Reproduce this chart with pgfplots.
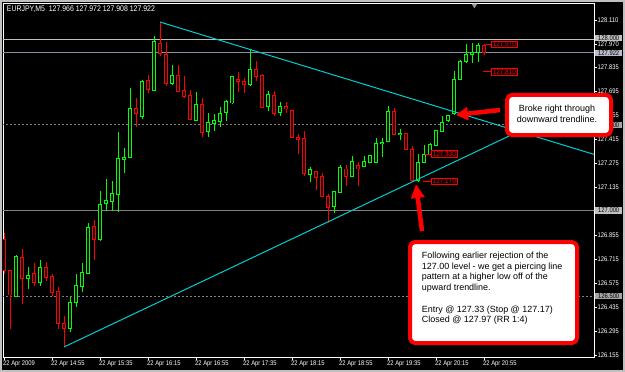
\documentclass[border=0pt]{standalone}
\usepackage{fontspec}
\setmainfont{Liberation Sans}
\newfontfamily\mtfont[FakeStretch=0.86]{Liberation Sans}
\usepackage{pgfplots}
\pgfplotsset{compat=1.18}
\usepackage{pgfplotstable}
\usetikzlibrary{arrows.meta}

\definecolor{bullc}{RGB}{0,255,0}
\definecolor{bearc}{RGB}{255,0,0}
\definecolor{trend}{RGB}{0,206,209}
\definecolor{silverl}{RGB}{192,192,192}
\definecolor{bidl}{RGB}{130,145,165}
\definecolor{lvl}{RGB}{128,128,128}

\newcommand\smallf{\mtfont\fontsize{6.8}{8}\selectfont}
\newcommand\titlef{\mtfont\fontsize{8.1}{9}\selectfont}
\newcommand\labf{\mtfont\fontsize{7.4}{8}\selectfont}
\newcommand\callf{\fontsize{9}{10.8}\selectfont}

% bullish candles: index, open, high, low, close
\pgfplotstableread{
k o h l c
2 126.501 126.740 126.495 126.734
4 126.606 126.670 126.542 126.623
6 126.582 126.711 126.559 126.670
11 126.314 126.495 126.290 126.466
12 126.466 126.629 126.436 126.565
13 126.559 126.693 126.524 126.641
14 126.635 126.927 126.629 126.904
16 126.834 127.114 126.822 127.038
17 127.044 127.184 126.997 127.061
18 127.056 127.172 126.997 127.102
19 127.091 127.459 126.991 127.301
20 127.301 127.365 127.219 127.313
21 127.313 127.716 127.310 127.599
23 127.552 127.762 127.534 127.756
25 127.704 128.019 127.700 127.990
28 127.745 127.850 127.733 127.792
32 127.529 127.692 127.523 127.622
34 127.464 127.570 127.429 127.517
35 127.511 127.564 127.464 127.529
36 127.523 127.605 127.488 127.570
37 127.570 127.646 127.523 127.634
38 127.628 127.783 127.625 127.780
41 127.739 127.943 127.727 127.827
44 127.605 127.698 127.581 127.675
46 127.570 127.634 127.552 127.610
51 127.213 127.254 127.167 127.237
55 127.021 127.114 126.985 127.108
56 127.108 127.266 127.105 127.254
58 127.202 127.318 127.200 127.289
60 127.260 127.318 127.254 127.289
61 127.283 127.327 127.280 127.324
62 127.283 127.424 127.280 127.394
63 127.394 127.424 127.313 127.400
64 127.406 127.610 127.403 127.581
66 127.447 127.476 127.412 127.453
69 127.178 127.330 127.170 127.283
70 127.283 127.383 127.280 127.330
71 127.330 127.392 127.327 127.389
72 127.383 127.473 127.380 127.470
73 127.464 127.552 127.459 127.517
74 127.529 127.561 127.517 127.558
75 127.564 127.815 127.561 127.768
76 127.768 127.879 127.762 127.873
77 127.873 127.973 127.862 127.914
78 127.914 127.978 127.862 127.926
79 127.926 127.978 127.868 127.967
}\bull

% bearish candles: index, open, high, low, close
\pgfplotstableread{
k o h l c
0 126.834 126.869 126.629 126.653
1 126.650 126.650 126.308 126.507
3 126.728 126.775 126.454 126.606
5 126.635 126.693 126.559 126.582
7 126.670 126.699 126.588 126.612
8 126.618 126.629 126.501 126.524
9 126.530 126.553 126.308 126.343
10 126.343 126.384 126.203 126.314
15 126.910 126.945 126.711 126.834
22 127.599 127.657 127.488 127.570
24 127.762 127.792 127.686 127.704
26 127.978 128.101 127.903 127.920
27 127.914 127.984 127.727 127.745
29 127.792 127.850 127.692 127.698
30 127.704 127.786 127.657 127.669
31 127.675 127.704 127.529 127.534
33 127.622 127.657 127.429 127.459
39 127.768 127.809 127.692 127.756
40 127.756 127.774 127.686 127.739
42 127.827 127.873 127.756 127.786
43 127.792 127.795 127.602 127.605
45 127.675 127.698 127.552 127.570
47 127.605 127.634 127.570 127.593
48 127.587 127.590 127.426 127.429
49 127.429 127.447 127.330 127.418
50 127.424 127.464 127.202 127.219
52 127.231 127.234 127.120 127.196
53 127.202 127.219 127.082 127.085
54 127.085 127.096 126.927 127.021
57 127.243 127.266 127.143 127.202
59 127.266 127.283 127.143 127.243
65 127.581 127.599 127.444 127.447
67 127.453 127.456 127.356 127.359
68 127.359 127.377 127.178 127.178
80 127.966 127.972 127.908 127.922
}\bear

\begin{document}
\begin{tikzpicture}
\useasboundingbox (0,0) rectangle (625bp,372bp);
\fill[black] (0,0) rectangle (625bp,372bp);
\draw[silverl, line width=2bp] (1bp,1bp) rectangle (624bp,371bp);
\begin{axis}[
  at={(3bp,15bp)}, anchor=south west, scale only axis,
  width=591bp, height=354bp,
  xmin=-0.1667, xmax=98.333, ymin=126.1444, ymax=128.2121,
  clip mode=individual,
  axis background/.style={fill=black},
  axis line style={white, line width=0.9bp},
  tick align=outside,
  xtick pos=left, ytick pos=right, yticklabel pos=right,
  major tick length=2.5bp,
  tick style={white, line width=0.8bp},
  scaled y ticks=false,
  xtick={0,8,...,80},
  xticklabels={22 Apr 2009, 22 Apr 14:55, 22 Apr 15:35, 22 Apr 16:15, 22 Apr 16:55, 22 Apr 17:35, 22 Apr 18:15, 22 Apr 18:55, 22 Apr 19:35, 22 Apr 20:15, 22 Apr 20:55},
  ytick={128.110,127.970,127.835,127.695,127.555,127.415,127.275,127.135,126.855,126.715,126.575,126.435,126.295,126.155},
  yticklabels={128.110,127.970,127.835,127.695,127.555,127.415,127.275,127.135,126.855,126.715,126.575,126.435,126.295,126.155},
  ticklabel style={font=\smallf, text=white, inner sep=0pt},
  xticklabel style={anchor=north west, xshift=-1bp, yshift=-1.5bp},
  yticklabel style={anchor=west, xshift=1bp},
  /pgf/number format/assume math mode=true,
]
% horizontal levels
\addplot[silverl, line width=1bp] coordinates {(-1,128) (100,128)};
\addplot[bidl, line width=1bp] coordinates {(-1,127.922) (100,127.922)};
\addplot[lvl, line width=1.6bp] coordinates {(-1,127) (100,127)};
\addplot[lvl, line width=1bp, dash pattern=on 2bp off 2bp] coordinates {(-1,127.5) (100,127.5)};
\addplot[lvl, line width=1bp, dash pattern=on 2bp off 2bp] coordinates {(-1,126.5) (100,126.5)};

% wicks
\addplot[draw=none, mark=none, error bars/.cd, y dir=both, y explicit, error mark=none,
  error bar style={draw=bullc, line width=1bp, solid}]
  table[x=k, y expr={(\thisrow{h}+\thisrow{l})/2}, y error expr={(\thisrow{h}-\thisrow{l})/2}] {\bull};
\addplot[draw=none, mark=none, error bars/.cd, y dir=both, y explicit, error mark=none,
  error bar style={draw=bearc, line width=1bp, solid}]
  table[x=k, y expr={(\thisrow{h}+\thisrow{l})/2}, y error expr={(\thisrow{h}-\thisrow{l})/2}] {\bear};
% bodies (outline)
\addplot[draw=none, mark=none, error bars/.cd, y dir=both, y explicit, error mark=none,
  error bar style={draw=bullc, line width=4.6bp, solid}]
  table[x=k, y expr={(\thisrow{o}+\thisrow{c})/2}, y error expr={abs(\thisrow{c}-\thisrow{o})/2+0.0029}] {\bull};
\addplot[draw=none, mark=none, error bars/.cd, y dir=both, y explicit, error mark=none,
  error bar style={draw=bearc, line width=4.6bp, solid}]
  table[x=k, y expr={(\thisrow{o}+\thisrow{c})/2}, y error expr={abs(\thisrow{c}-\thisrow{o})/2+0.0029}] {\bear};
% bodies (hollow interior)
\addplot[draw=none, mark=none, error bars/.cd, y dir=both, y explicit, error mark=none,
  error bar style={draw=black, line width=2.6bp, solid}]
  table[x=k, y expr={(\thisrow{o}+\thisrow{c})/2}, y error expr={max(abs(\thisrow{c}-\thisrow{o})/2-0.0029,0)}] {\bull};
\addplot[draw=none, mark=none, error bars/.cd, y dir=both, y explicit, error mark=none,
  error bar style={draw=black, line width=2.6bp, solid}]
  table[x=k, y expr={(\thisrow{o}+\thisrow{c})/2}, y error expr={max(abs(\thisrow{c}-\thisrow{o})/2-0.0029,0)}] {\bear};

% trendlines
\addplot[trend, line width=1bp] coordinates {(26,128.101) (100,127.310)};
\addplot[trend, line width=1bp] coordinates {(10,126.203) (100,127.698)};

% shift marker
\fill[gray!80] (axis cs:77.9,128.209) -- (axis cs:78.9,128.209) -- (axis cs:78.4,128.181) -- cycle;

% title
\node[font=\titlef, text=white, anchor=west, inner sep=0pt] at (axis cs:0.45,128.175)
  {EURJPY,M5\ \ 127.966 127.972 127.908 127.922};

% price labels
\draw[bearc, line width=0.8bp] (axis cs:80.33,127.970) -- (axis cs:81.12,127.970);
\node[draw=bearc, fill=black, text=bearc, font=\labf, inner sep=0.4bp, minimum width=26.5bp, minimum height=6.8bp, anchor=west, line width=0.7bp] at (axis cs:81.12,127.970) {127.970};
\draw[bearc, line width=0.8bp] (axis cs:79.78,127.810) -- (axis cs:81.12,127.810);
\node[draw=bearc, fill=black, text=bearc, font=\labf, inner sep=0.4bp, minimum width=26.5bp, minimum height=6.8bp, anchor=west, line width=0.7bp] at (axis cs:81.12,127.810) {127.810};
\draw[bearc, line width=0.8bp] (axis cs:70.17,127.330) -- (axis cs:71.12,127.330);
\node[draw=bearc, fill=black, text=bearc, font=\labf, inner sep=0.4bp, minimum width=26.5bp, minimum height=6.8bp, anchor=west, line width=0.7bp] at (axis cs:71.12,127.330) {127.330};
\draw[bearc, line width=0.8bp] (axis cs:69.88,127.170) -- (axis cs:71.12,127.170);
\node[draw=bearc, fill=black, text=bearc, font=\labf, inner sep=0.4bp, minimum width=26.5bp, minimum height=6.8bp, anchor=west, line width=0.7bp] at (axis cs:71.12,127.170) {127.170};

% axis price boxes
\node[fill=silverl, text=black, font=\smallf, inner sep=0.3bp, minimum width=27bp, minimum height=6.3bp, anchor=west] at (axis cs:98.5,128.009) {128.000};
\node[fill=bidl!60!white, text=black, font=\smallf, inner sep=0.3bp, minimum width=27bp, minimum height=6.3bp, anchor=west] at (axis cs:98.5,127.920) {127.922};
\node[fill=lvl!70!white, text=black, font=\smallf, inner sep=0.3bp, minimum width=27bp, minimum height=6.6bp, anchor=west] at (axis cs:98.5,127.500) {127.500};
\node[fill=lvl!50!white, text=black, font=\smallf, inner sep=0.3bp, minimum width=27bp, minimum height=6.6bp, anchor=west] at (axis cs:98.5,127.000) {127.000};
\node[fill=lvl!70!white, text=black, font=\smallf, inner sep=0.3bp, minimum width=27bp, minimum height=6.6bp, anchor=west] at (axis cs:98.5,126.500) {126.500};

% callout 1
\draw[bearc, line width=4.5bp, -{Triangle[width=13bp,length=12bp]}] (axis cs:82.667,127.587) -- (axis cs:75.333,127.558);
\draw[bearc, line width=4bp, fill=white, rounded corners=5bp] (axis cs:83.833,127.675) rectangle (axis cs:101.167,127.441);
\node[font=\callf, text=black, anchor=base, inner sep=0pt] at (axis cs:92.167,127.580) {Broke right through};
\node[font=\callf, text=black, anchor=base, inner sep=0pt] at (axis cs:92.167,127.515) {downward trendline.};

% callout 2
\draw[bearc, line width=4.5bp, -{Triangle[width=13bp,length=14bp]}] (axis cs:69.667,126.880) -- (axis cs:68.667,127.155);
\draw[bearc, line width=4bp, fill=white, rounded corners=5bp] (axis cs:67.667,126.816) rectangle (axis cs:95.5,126.226);
\node[font=\callf, text=black, anchor=base west, inner sep=0pt] at (axis cs:69.617,126.722) {Following earlier rejection of the};
\node[font=\callf, text=black, anchor=base west, inner sep=0pt] at (axis cs:69.617,126.658) {127.00 level - we get a piercing line};
\node[font=\callf, text=black, anchor=base west, inner sep=0pt] at (axis cs:69.617,126.595) {pattern at a higher low off of the};
\node[font=\callf, text=black, anchor=base west, inner sep=0pt] at (axis cs:69.617,126.532) {upward trendline.};
\node[font=\callf, text=black, anchor=base west, inner sep=0pt] at (axis cs:69.617,126.406) {Entry @ 127.33 (Stop @ 127.17)};
\node[font=\callf, text=black, anchor=base west, inner sep=0pt] at (axis cs:69.617,126.343) {Closed @ 127.97 (RR 1:4)};
\end{axis}
\end{tikzpicture}
\end{document}
